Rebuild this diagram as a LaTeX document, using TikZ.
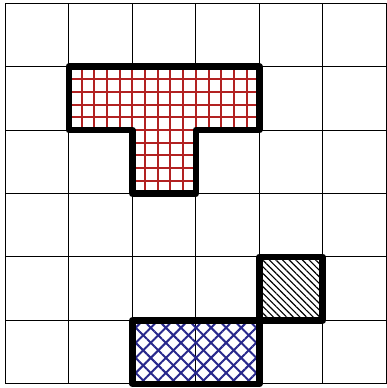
\documentclass[tikz,border=0pt]{standalone}
\usetikzlibrary{patterns.meta}

\definecolor{tred}{RGB}{178,34,34}
\definecolor{xblue}{RGB}{40,40,140}

\begin{document}
\begin{tikzpicture}[
    cell/.style={line width=0.45pt},
    outline/.style={line width=3pt, line join=round},
    redgrid/.style={tred, line width=0.9pt, step=2mm},
    crossA/.style={pattern={Lines[angle=45, distance=1.68mm, line width=0.9pt]}, pattern color=xblue},
    crossB/.style={pattern={Lines[angle=-45, distance=1.68mm, line width=0.9pt]}, pattern color=xblue},
    blackhatch/.style={pattern={Lines[angle=-45, distance=2.1pt, line width=0.5pt]}, pattern color=black}
]
\useasboundingbox (-0.087,-0.065) rectangle (6,6.05);

% Board
\draw[cell] (0,0) grid (6,6);

% T piece, fine grid inside
\begin{scope}
  \clip (1,5) -- (4,5) -- (4,4) -- (3,4) -- (3,3) -- (2,3) -- (2,4) -- (1,4) -- cycle;
  \draw[redgrid] (1,3) grid (4,5);
\end{scope}

% Other pieces
\path[crossA] (2,0) rectangle (4,1);
\path[crossB] (2,0) rectangle (4,1);
\path[blackhatch] (4,1) rectangle (5,2);

% Outlines
\draw[outline] (1,5) -- (4,5) -- (4,4) -- (3,4) -- (3,3) -- (2,3) -- (2,4) -- (1,4) -- cycle;
\draw[outline] (2,0) rectangle (4,1);
\draw[outline] (4,1) rectangle (5,2);

\end{tikzpicture}
\end{document}
